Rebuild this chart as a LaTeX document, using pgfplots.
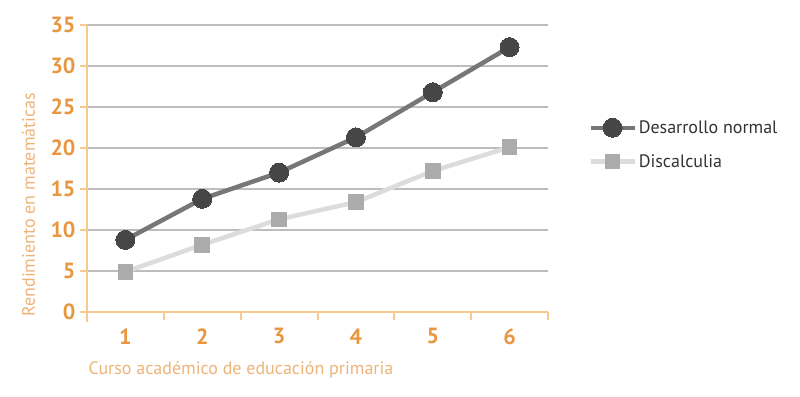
\documentclass[border=0pt]{standalone}
\usepackage{pgfplots}
\pgfplotsset{compat=1.18}
\usepackage{fontspec}
\setmainfont{PT Sans}
\definecolor{axorange}{HTML}{F8C98E}
\definecolor{tickorange}{HTML}{E8963F}
\definecolor{laborange}{HTML}{EDB47A}
\definecolor{gridc}{HTML}{BDBDBD}
\definecolor{darkline}{HTML}{777777}
\definecolor{darkmark}{HTML}{464646}
\definecolor{lightline}{HTML}{DCDCDC}
\definecolor{lightmark}{HTML}{ABABAB}
\begin{document}
\begin{tikzpicture}[x=1pt,y=1pt]
\useasboundingbox (-87,-84) rectangle (713,312);
\begin{axis}[
  at={(0,0)}, anchor=south west,
  scale only axis, width=461pt, height=287pt,
  xmin=0.5, xmax=6.5, ymin=0, ymax=35,
  axis lines=left,
  x axis line style={-, draw=axorange, line width=2.5pt, shorten <=-7pt},
  y axis line style={-, draw=axorange, line width=2.5pt, shorten <=-10pt},
  xtick={1,...,6},
  minor xtick={1.5,2.5,...,6.5},
  major x tick style={draw=none},
  minor x tick style={draw=axorange, line width=2pt},
  minor tick length=8pt,
  ytick={0,5,...,35},
  y tick style={draw=axorange, line width=2pt},
  major tick length=7pt,
  tick align=outside,
  ymajorgrids,
  grid style={draw=gridc, line width=1.3pt},
  /pgf/number format/assume math mode=true,
  ticklabel style={font=\fontsize{22}{22}\bfseries, text=tickorange},
  xticklabel style={yshift=-6pt},
  yticklabel style={xshift=-1pt},
  clip=false,
  legend style={draw=none, fill=none, at={(1.087,0.584)}, anchor=west,
    font=\fontsize{18}{18}\selectfont, text=black!80, inner sep=0pt,
    row sep=15pt},
  legend cell align=left,
  legend image code/.code={%
    \draw[#1, mark repeat=2, mark phase=2] plot coordinates {(0pt,0pt) (22pt,0pt) (44pt,0pt)};},
]
\addplot[darkline, line width=4.5pt, mark=*, mark size=9.5pt,
  mark options={fill=darkmark, draw=darkmark, line width=0pt}]
  coordinates {(1,8.8) (2,13.8) (3,17.0) (4,21.3) (5,26.8) (6,32.3)};
\addlegendentry{Desarrollo normal}
\addplot[lightline, line width=4.5pt, mark=square*, mark size=7.3pt,
  mark options={fill=lightmark, draw=lightmark, line width=0pt}]
  coordinates {(1,4.9) (2,8.2) (3,11.3) (4,13.4) (5,17.2) (6,20.1)};
\addlegendentry{Discalculia}
\end{axis}
\node[anchor=base west, font=\fontsize{18}{18}\selectfont, text=laborange] at (-2,-63) {Curso académico de educación primaria};
\node[anchor=base west, rotate=90, font=\fontsize{18}{18}\selectfont, text=laborange] at (-52,-8) {Rendimiento en matemáticas};
\end{tikzpicture}
\end{document}
